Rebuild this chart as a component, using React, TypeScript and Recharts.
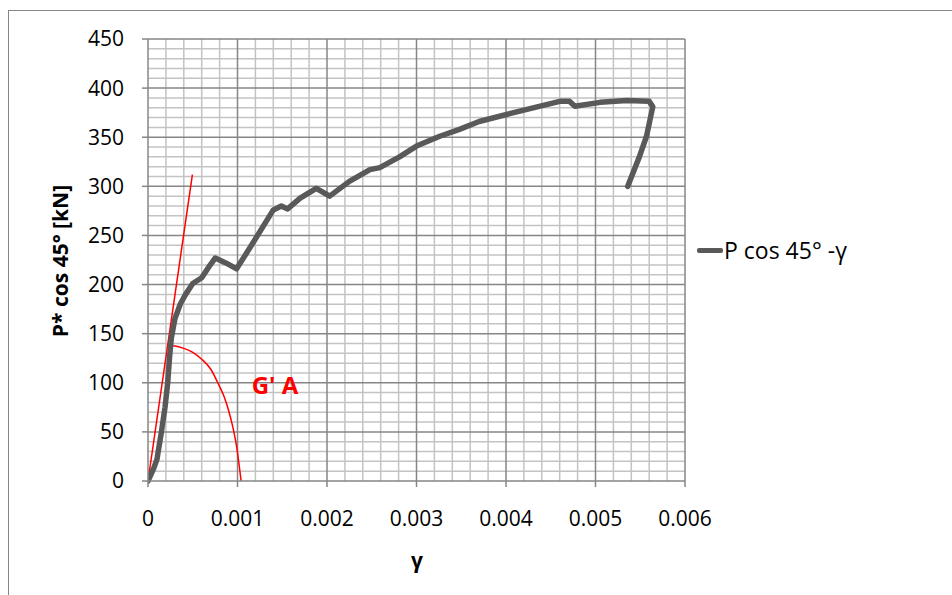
import React from "react";
import { ComposedChart, Line, XAxis, YAxis, ReferenceLine } from "recharts";

// measured curve: shear strain vs P*cos45
const gammaValues = [
  0, 0.00006, 0.0001, 0.00015, 0.00019, 0.00022, 0.00024, 0.00026, 0.0003, 0.00036, 0.00042,
  0.0005, 0.0006, 0.00068, 0.00075, 0.00087, 0.00099, 0.00117, 0.0014, 0.00149, 0.00156,
  0.0017, 0.00188, 0.00203, 0.00225, 0.00248, 0.00259, 0.00281, 0.003, 0.00326, 0.00348,
  0.0037, 0.00404, 0.0046, 0.00471, 0.00477, 0.00505, 0.00535, 0.0056, 0.00564, 0.00557,
  0.00549, 0.00536,
];
const loadValues = [
  0, 12, 22, 50, 75, 100, 125, 145, 165, 180, 190,
  201, 207, 218, 227, 222, 216, 242, 276, 280, 277,
  288, 298, 290, 305, 317, 319, 330, 341, 351, 358,
  366, 374, 386.5, 386.5, 381.5, 385.5, 387.5, 386.5, 381, 351,
  330, 300,
];

// red tangent line (initial stiffness)
const tangentGamma = [0, 0.000496];
const tangentLoad = [0, 312];

// red arc drawn to mark G'A
const arcGamma = [0.00022, 0.0003, 0.0004, 0.0005, 0.0006, 0.0007, 0.00078, 0.00085, 0.0009, 0.00095, 0.00099, 0.00102, 0.00104];
const arcLoad = [138, 137.5, 135, 131, 124, 114, 100, 86, 72, 54, 35, 15, 0];

const xTicks = [0, 0.001, 0.002, 0.003, 0.004, 0.005, 0.006];
const yTicks = [0, 50, 100, 150, 200, 250, 300, 350, 400, 450];
const xMinor = [
  0.0002, 0.0004, 0.0006, 0.0008, 0.0012, 0.0014, 0.0016, 0.0018, 0.0022, 0.0024, 0.0026,
  0.0028, 0.0032, 0.0034, 0.0036, 0.0038, 0.0042, 0.0044, 0.0046, 0.0048, 0.0052, 0.0054,
  0.0056, 0.0058,
];
const yMinor = [
  10, 20, 30, 40, 60, 70, 80, 90, 110, 120, 130, 140, 160, 170, 180, 190, 210, 220, 230, 240,
  260, 270, 280, 290, 310, 320, 330, 340, 360, 370, 380, 390, 410, 420, 430, 440,
];

const curve = gammaValues.map((g, i) => ({ g, p: loadValues[i] }));
const tangent = tangentGamma.map((g, i) => ({ g, p: tangentLoad[i] }));
const arc = arcGamma.map((g, i) => ({ g, p: arcLoad[i] }));

const FONT = "'Open Sans', 'Liberation Sans', sans-serif";
const tickStyle = { fontSize: 21, fill: "#000", fontFamily: FONT };
const MINOR = "#c3c3c3";
const MAJOR = "#868686";

export default function App() {
  return (
    <div style={{ position: "absolute", left: 0, top: 0, width: 952, height: 595, background: "#fff", overflow: "hidden", fontFamily: FONT }}>
      <div style={{ position: "absolute", left: 8, top: 10, width: 960, height: 600, borderLeft: "1.5px solid #868686", borderTop: "1.5px solid #868686" }} />
      <ComposedChart
        width={952}
        height={595}
        margin={{ top: 39, right: 267, left: 88, bottom: 74 }}
        style={{ position: "absolute", left: 0, top: 0 }}
      >
        <XAxis
          dataKey="g"
          type="number"
          domain={[0, 0.006]}
          ticks={xTicks}
          tick={tickStyle}
          tickLine={{ stroke: MAJOR, strokeWidth: 1.5 }}
          axisLine={{ stroke: MAJOR, strokeWidth: 1.5 }}
          tickSize={6}
          tickMargin={24}
          height={40}
          allowDataOverflow
        />
        <YAxis
          dataKey="p"
          type="number"
          domain={[0, 450]}
          ticks={yTicks}
          tick={tickStyle}
          tickLine={{ stroke: MAJOR, strokeWidth: 1.5 }}
          axisLine={{ stroke: MAJOR, strokeWidth: 1.5 }}
          tickSize={6}
          tickMargin={18}
          width={60}
        />
        {xMinor.map((v) => (
          <ReferenceLine key={"xm" + v} x={v} stroke={MINOR} strokeWidth={1.5} />
        ))}
        {yMinor.map((v) => (
          <ReferenceLine key={"ym" + v} y={v} stroke={MINOR} strokeWidth={1.5} />
        ))}
        {xTicks.slice(1).map((v) => (
          <ReferenceLine key={"xM" + v} x={v} stroke={MAJOR} strokeWidth={1.5} />
        ))}
        {yTicks.slice(1).map((v) => (
          <ReferenceLine key={"yM" + v} y={v} stroke={MAJOR} strokeWidth={1.5} />
        ))}
        <Line data={tangent} dataKey="p" type="linear" stroke="#ff0000" strokeWidth={1.5} dot={false} isAnimationActive={false} />
        <Line data={arc} dataKey="p" type="monotone" stroke="#ff0000" strokeWidth={1.5} dot={false} isAnimationActive={false} />
        <Line data={curve} dataKey="p" type="linear" stroke="#595959" strokeWidth={5.5} strokeLinejoin="round" strokeLinecap="round" dot={false} isAnimationActive={false} />
      </ComposedChart>

      {/* y axis title */}
      <div style={{ position: "absolute", left: 60, top: 261, transform: "translate(-50%, -50%) rotate(-90deg)", whiteSpace: "nowrap", fontWeight: 700, fontSize: 21 }}>
        P* cos 45° [kN]
      </div>
      {/* x axis title */}
      <div style={{ position: "absolute", left: 417, top: 560, transform: "translate(-50%, -50%)", fontWeight: 700, fontSize: 21 }}>γ</div>
      {/* annotation */}
      <div style={{ position: "absolute", left: 275, top: 384, transform: "translate(-50%, -50%)", whiteSpace: "nowrap", fontWeight: 700, fontSize: 24, color: "#ff0000" }}>
        G' A
      </div>
      {/* legend */}
      <div style={{ position: "absolute", left: 697, top: 250, transform: "translateY(-50%)", display: "flex", alignItems: "center", fontSize: 23 }}>
        <div style={{ width: 26, height: 5, background: "#595959", borderRadius: 2 }} />
        <span style={{ marginLeft: 1 }}>P cos 45° -γ</span>
      </div>
    </div>
  );
}
